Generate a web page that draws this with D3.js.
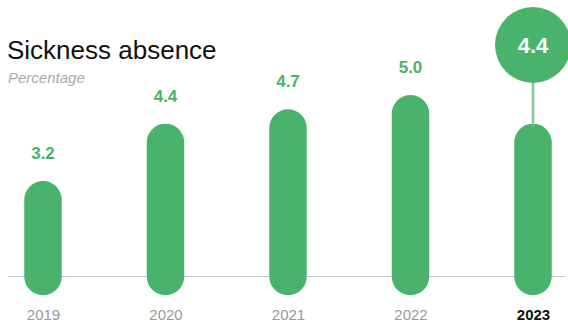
<!DOCTYPE html>
<html><head><meta charset="utf-8">
<script src="https://cdn.jsdelivr.net/npm/d3@7"></script>
<style>body{margin:0;background:#fff}svg{display:block;font-family:"Liberation Sans",Arial,Helvetica,sans-serif}</style>
</head><body><svg id="c" width="568" height="324"></svg>
<script>
const years = ["2019","2020","2021","2022","2023"];
const values = [3.2, 4.4, 4.7, 5.0, 4.4];
const highlightYear = "2023";

const W = 568, H = 324;
const green = "#4ab36b";
const svg = d3.select("#c");
const baseY = 276.5;
const barW = 37.5, r = barW / 2;

const x = d3.scalePoint().domain(years).range([43, 533]);
const y = d3.scaleLinear().domain([1.2, 5.0]).range([baseY, 95]);

// title
svg.append("text").attr("x", 7).attr("y", 59).attr("font-size", 26).attr("fill", "#111")
  .text("Sickness absence");
svg.append("text").attr("x", 8).attr("y", 83).attr("font-size", 15).attr("font-style", "italic")
  .attr("fill", "#aaa").text("Percentage");

// baseline
svg.append("line").attr("x1", 8).attr("x2", 565).attr("y1", baseY).attr("y2", baseY)
  .attr("stroke", "#c8c8c8").attr("stroke-width", 1);

const data = years.map((yr, i) => ({yr, v: values[i]}));

svg.selectAll("rect.bar").data(data).join("rect").attr("class", "bar")
  .attr("x", d => x(d.yr) - r).attr("width", barW)
  .attr("y", d => y(d.v)).attr("height", d => baseY + r - y(d.v))
  .attr("rx", r).attr("ry", r).attr("fill", green);

// value labels (non highlighted)
svg.selectAll("text.val").data(data.filter(d => d.yr !== highlightYear)).join("text").attr("class", "val")
  .attr("x", d => x(d.yr)).attr("y", d => y(d.v) - 22)
  .attr("text-anchor", "middle").attr("font-size", 17).attr("font-weight", "bold")
  .attr("fill", green).text(d => d.v.toFixed(1));

// highlight bubble
const hd = data.find(d => d.yr === highlightYear);
const cx = x(hd.yr), cy = 45, cr = 38;
svg.append("line").attr("x1", cx).attr("x2", cx).attr("y1", cy + cr - 2).attr("y2", y(hd.v) + 2)
  .attr("stroke", "#7fcc95").attr("stroke-width", 2.5);
svg.append("circle").attr("cx", cx).attr("cy", cy).attr("r", cr).attr("fill", green);
svg.append("text").attr("x", cx).attr("y", cy + 8).attr("text-anchor", "middle")
  .attr("font-size", 22).attr("font-weight", "bold").attr("fill", "#fff").text(hd.v.toFixed(1));

// year axis labels
const axis = d3.axisBottom(x).tickSize(0).tickPadding(0);
const g = svg.append("g").attr("transform", `translate(0,${309})`).call(axis);
g.select(".domain").remove();
g.selectAll("text").attr("font-size", 15).attr("fill", d => d === highlightYear ? "#111" : "#999")
  .attr("font-weight", d => d === highlightYear ? "bold" : "normal")
  .attr("font-family", "'Liberation Sans',Arial,sans-serif");
</script></body></html>
